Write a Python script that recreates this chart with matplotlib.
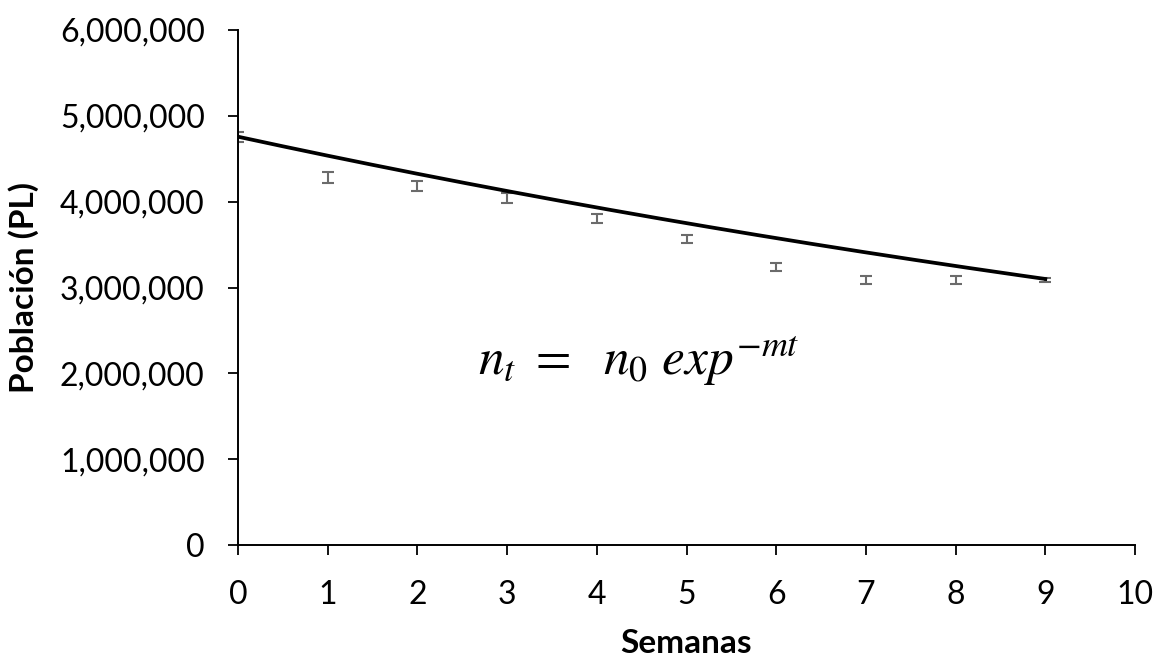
import numpy as np
import matplotlib
matplotlib.use("Agg")
import matplotlib.pyplot as plt
from matplotlib.ticker import FuncFormatter

# datos
semanas = [0, 1, 2, 3, 4, 5, 6, 7, 8, 9]
poblacion = [4757000, 4282000, 4186000, 4043000, 3806000, 3565000, 3235000, 3091000, 3091000, 3085000]
error = [58000, 67000, 58000, 54000, 50000, 50000, 46000, 46000, 46000, 22000]

# parametros del modelo n_t = n0 exp(-m t)
n0 = 4757000
m = 0.0476

plt.rcParams['font.family'] = ['Lato', 'DejaVu Sans']
plt.rcParams['mathtext.fontset'] = 'stix'

fig = plt.figure(figsize=(11.57, 6.61), dpi=100)
ax = fig.add_axes([0.2057, 0.1755, 0.7753, 0.7791])

ax.errorbar(semanas, poblacion, yerr=error, fmt='none', ecolor='#6b6b6b',
            elinewidth=1.5, capsize=4.6, capthick=1.5, zorder=2)

t = np.linspace(0, 9, 200)
ax.plot(t, n0 * np.exp(-m * t), color='black', lw=2.7, zorder=3)

ax.set_xlim(0, 10)
ax.set_ylim(0, 6000000)
ax.set_xticks(range(0, 11))
ax.set_yticks(range(0, 6000001, 1000000))
ax.yaxis.set_major_formatter(FuncFormatter(lambda v, p: f"{int(v):,}"))

for s in ['top', 'right']:
    ax.spines[s].set_visible(False)
for s in ['left', 'bottom']:
    ax.spines[s].set_linewidth(1.4)
ax.tick_params(axis='both', labelsize=23, length=7, width=1.3, direction='out')
ax.tick_params(axis='x', pad=18)
ax.tick_params(axis='y', pad=17)

ax.set_xlabel("Semanas", fontsize=24, fontweight='bold', labelpad=14)
ax.set_ylabel("Población (PL)", fontsize=24, fontweight='bold', labelpad=15)

ax.text(4.47, 1980000, r"$n_t\ =\ \ n_0\ exp^{-mt}$", fontsize=37,
        ha='center', va='baseline')

fig.savefig("out.png", dpi=100)
